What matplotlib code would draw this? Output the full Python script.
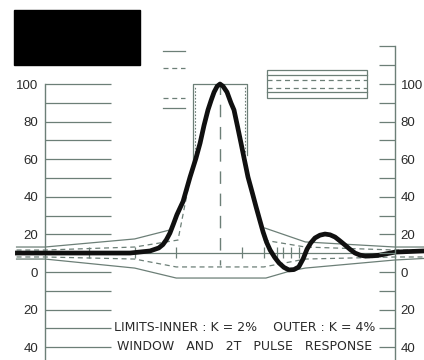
import matplotlib
matplotlib.use("Agg")
import matplotlib.pyplot as plt
from matplotlib.patches import Rectangle
from matplotlib.ticker import FixedLocator, FuncFormatter

# ---------------- data (x in units of T, y in percent scale) ----------------
pulse_x = [-9.37, -4.11, -3.2, -2.8, -2.61, -2.45, -2.29, -2.13, -1.97, -1.69, -1.37, -1.1, -0.91, -0.73,
           -0.55, -0.4, -0.27, -0.13, 0.0, 0.14, 0.32, 0.5, 0.64, 0.8, 0.96, 1.12,
           1.28, 1.48, 1.65, 1.82, 1.97, 2.13, 2.29, 2.5, 2.7, 2.92, 3.15, 3.38,
           3.6, 3.8, 3.98, 4.15, 4.34, 4.57, 4.8, 5.03, 5.26, 5.48, 5.71, 5.94,
           6.17, 6.4, 6.63, 6.97, 7.31, 7.65, 8.0, 9.33]
pulse_y = [10.1, 10.1, 11.2, 12.8, 14.6, 17.2, 20.7, 25.5, 30.5, 37.5, 50.5, 60.5, 68.6, 78.0,
           86.2, 91.5, 95.7, 98.8, 100.0, 98.8, 95.7, 90.0, 86.2, 77.5, 68.6, 59.5,
           50.5, 42.0, 34.6, 27.5, 21.3, 15.8, 11.7, 7.8, 4.8, 2.5, 1.1, 1.3,
           2.7, 7.0, 12.2, 15.5, 18.1, 19.6, 20.2, 19.8, 18.6, 16.6, 14.4, 12.1,
           10.1, 9.0, 8.5, 8.6, 9.0, 9.8, 10.6, 11.2]

out_up_L_x = [-9.3, -8.0, -3.9, -2.25]
out_up_L_y = [13.3, 13.3, 17.6, 22.5]
out_up_R_x = [2.05, 3.9, 8.0, 9.3]
out_up_R_y = [23.4, 16.0, 13.3, 13.3]
in_up_L_x = [-9.3, -8.0, -3.9, -2.2, -1.92, -1.23]
in_up_L_y = [11.7, 11.7, 13.3, 16.5, 17.0, 58.0]
in_up_R_x = [2.0, 3.9, 8.0, 9.3]
in_up_R_y = [17.0, 13.3, 11.7, 11.7]
in_lo_x = [-9.3, -8.0, -3.9, -2.0, 2.0, 3.9, 8.0, 9.3]
in_lo_y = [8.0, 8.0, 6.9, 2.7, 2.7, 6.9, 8.0, 8.0]
out_lo_x = [-9.3, -8.0, -3.9, -2.0, 2.1, 3.2, 3.9, 8.0, 9.3]
out_lo_y = [6.9, 6.9, 2.1, -3.2, -3.2, 0.5, 2.1, 6.4, 7.2]

window_x = [-1.23, 1.23]
window_top = 100
window_bottom = [58.0, 62.0]

base_ticks_x = [-6, -3.9, -2, 1, 2, 2.6, 2.9, 3.25, 3.6]
baseline_y = 10.3

left_marks_x = [-2.6, -1.6]
left_marks_solid = [117.6, 87.2]
left_marks_dashed = [108.5, 92.6]

box_x = [2.15, 6.72]
box_edges = [107.4, 92.6]
box_solid = [104.8, 95.7]
box_dashed = [101.9, 98.1]

label_vals = [100, 80, 60, 40, 20, 0, -20, -40]
left_ticks = list(range(-40, 101, 10))
right_ticks = list(range(-40, 121, 10))

line1 = "LIMITS-INNER : K = 2%    OUTER : K = 4%"
line2 = "WINDOW   AND   2T   PULSE   RESPONSE"

# ---------------- styles ----------------
GC = "#6c7f77"
W, H = 424, 360
fig = plt.figure(figsize=(W / 100, H / 100), dpi=100)
fig.patch.set_facecolor("white")

ax = fig.add_axes([45 / W, 0, 350 / W, 1])
ax.set_xlim(-8, 8)
ylo, yhi = -46.8, 144.7
ax.set_ylim(ylo, yhi)
ax.patch.set_alpha(0)

fmt = FuncFormatter(lambda v, p: f"{abs(int(round(v)))}" if int(round(v)) in label_vals else "")

for s in ["top", "bottom", "right"]:
    ax.spines[s].set_visible(False)
ax.spines["left"].set_bounds(ylo, 100)
ax.spines["left"].set_color(GC)
ax.spines["left"].set_linewidth(1.0)
ax.set_xticks([])
ax.yaxis.set_major_locator(FixedLocator(left_ticks))
ax.yaxis.set_major_formatter(fmt)
ax.tick_params(axis="y", direction="in", length=66 * 0.72, width=0.9, color=GC,
               pad=5, labelsize=9.5, labelcolor="#2a2a2a")
for t in ax.get_yticklabels():
    t.set_fontfamily("Liberation Sans")

ax2 = ax.twinx()
ax2.set_ylim(ylo, yhi)
for s in ["top", "bottom", "left"]:
    ax2.spines[s].set_visible(False)
ax2.spines["right"].set_bounds(ylo, 120)
ax2.spines["right"].set_color(GC)
ax2.spines["right"].set_linewidth(1.0)
ax2.yaxis.set_major_locator(FixedLocator(right_ticks))
ax2.yaxis.set_major_formatter(fmt)
ax2.tick_params(axis="y", direction="in", length=16 * 0.72, width=0.9, color=GC,
                pad=4, labelsize=9.5, labelcolor="#2a2a2a")
for t in ax2.get_yticklabels():
    t.set_fontfamily("Liberation Sans")

# baseline and ticks
ax.plot([-8, 8], [baseline_y, baseline_y], color=GC, lw=0.9)
ax.vlines(base_ticks_x, baseline_y - 3.0, baseline_y + 3.0, color=GC, lw=0.9)

# mask limits
sol = dict(color=GC, lw=0.9, clip_on=False)
dsh = dict(color=GC, lw=0.9, clip_on=False, linestyle=(0, (4, 3)))
ax.plot(out_up_L_x, out_up_L_y, **sol)
ax.plot(out_up_R_x, out_up_R_y, **sol)
ax.plot(out_lo_x, out_lo_y, **sol)
ax.plot(in_up_L_x, in_up_L_y, **dsh)
ax.plot(in_up_R_x, in_up_R_y, **dsh)
ax.plot(in_lo_x, in_lo_y, **dsh)

# window
ax.plot([window_x[0], window_x[0], window_x[1], window_x[1]],
        [window_bottom[0], window_top, window_top, window_bottom[1]], color=GC, lw=0.9)
ax.plot([window_x[0] + 0.1, window_x[0] + 0.1], [window_bottom[0] + 2, window_top - 1],
        color=GC, lw=0.8, linestyle=(0, (1.5, 1.5)))
ax.plot([window_x[1] - 0.1, window_x[1] - 0.1], [window_bottom[1] + 2, window_top - 1],
        color=GC, lw=0.8, linestyle=(0, (1.5, 1.5)))
# center dashed line
ax.plot([0, 0], [101, 4], color=GC, lw=1.0, linestyle=(0, (9, 7)))

# top-left limit marks
for v in left_marks_solid:
    ax.plot(left_marks_x, [v, v], **sol)
for v in left_marks_dashed:
    ax.plot(left_marks_x, [v, v], **dsh)

# right box
ax.add_patch(Rectangle((box_x[0], box_edges[1]), box_x[1] - box_x[0],
                       box_edges[0] - box_edges[1], fill=False, ec=GC, lw=0.9))
for v in box_solid:
    ax.plot(box_x, [v, v], **sol)
for v in box_dashed:
    ax.plot(box_x, [v, v], **dsh)

# pulse
ax.plot(pulse_x, pulse_y, color="#101010", lw=3.4, solid_capstyle="butt",
        solid_joinstyle="round", clip_on=False, zorder=5)

# captions
ax.text(1.14, -29.3, line1, ha="center", va="center", fontsize=9,
        family="DejaVu Sans", color="#2a2a2a")
ax.text(1.14, -39.6, line2, ha="center", va="center", fontsize=9,
        family="DejaVu Sans", color="#2a2a2a")

# black block top-left
fig.add_artist(Rectangle((14 / W, 1 - 65 / H), 126 / W, 55 / H,
                         transform=fig.transFigure, color="black"))

fig.savefig("out.png", dpi=100)
